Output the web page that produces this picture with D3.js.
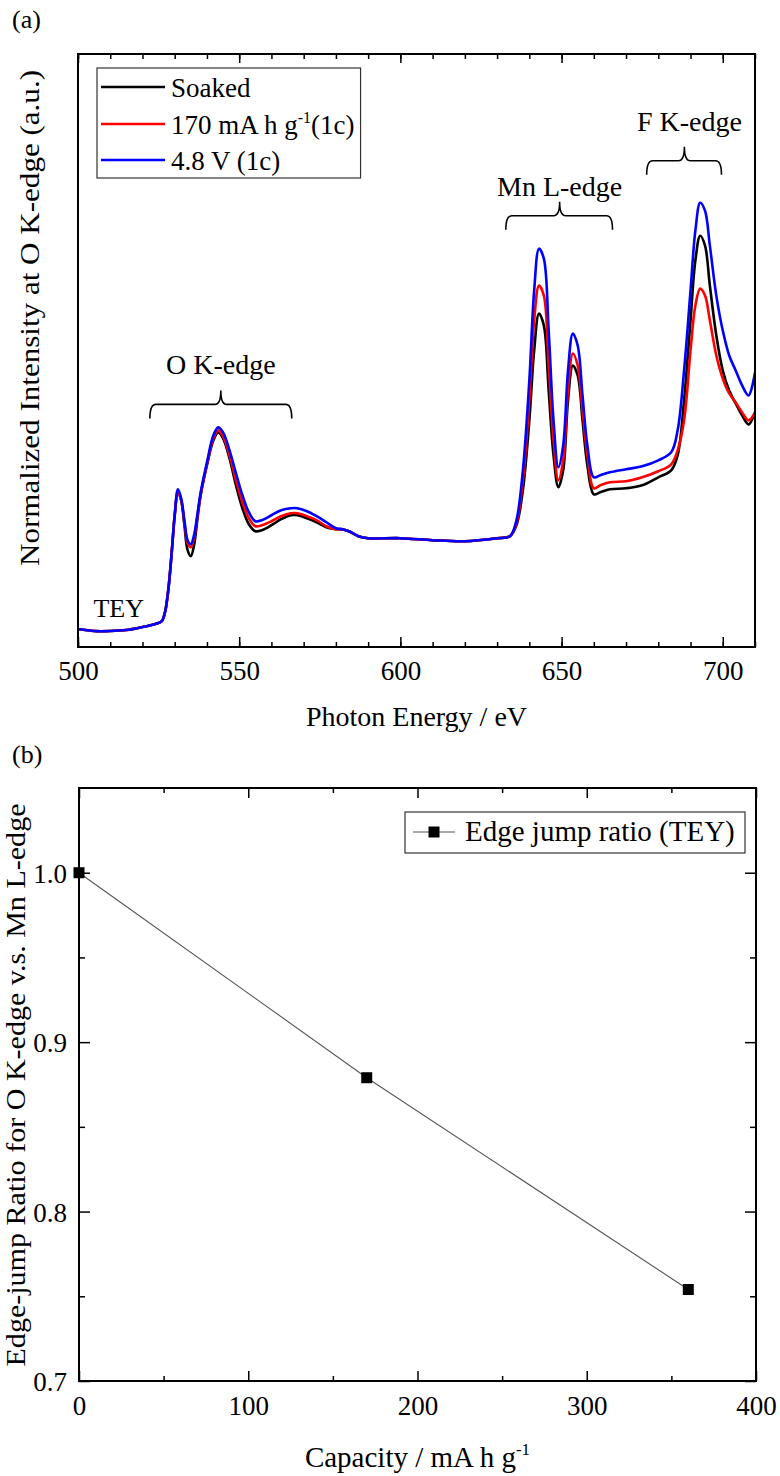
<!DOCTYPE html>
<html><head><meta charset="utf-8">
<script src="https://cdn.jsdelivr.net/npm/d3@7"></script>
<style>
body{margin:0;background:#fff}
svg{display:block}
</style>
</head><body>
<svg id="c" width="780" height="1476"></svg>
<script>
// ---------- DATA (panel a) ----------
const energy = [500,505,510,515,520,524,526,527,528,529,530,531,532,533,534,535,536,537,538,540,542,543.5,545,547,549,551,553,555,557,560,563,566,568,571,574,577,580,582,584,587,590,600,610,620,630,634,636,638,640,641.5,643,644.5,646,647.5,649,650.5,652,653.5,655,656.5,658,660,662,665,670,675,680,684,686,688,690,691.5,693,694.5,696,698,700,702,704,706,708,710];
const soaked = [0.01,-0.01,-0.01,0.00,0.03,0.06,0.09,0.18,0.40,0.75,1.15,1.38,1.30,1.05,0.80,0.74,0.85,1.10,1.34,1.65,1.90,1.98,1.92,1.72,1.45,1.22,1.06,0.99,1.00,1.05,1.11,1.15,1.15,1.12,1.08,1.03,1.01,1.01,0.99,0.94,0.92,0.92,0.90,0.89,0.92,0.94,1.05,1.40,2.10,2.80,3.17,3.05,2.40,1.75,1.43,1.60,2.30,2.65,2.55,2.10,1.65,1.36,1.38,1.41,1.42,1.45,1.53,1.60,1.75,2.30,3.10,3.70,3.95,3.85,3.45,2.95,2.60,2.40,2.27,2.15,2.06,2.18];
const charged170 = [0.01,-0.01,-0.01,0.00,0.03,0.06,0.09,0.18,0.40,0.75,1.15,1.38,1.30,1.08,0.87,0.83,0.92,1.13,1.35,1.66,1.92,2.00,1.94,1.75,1.50,1.28,1.12,1.04,1.05,1.09,1.14,1.17,1.17,1.14,1.10,1.04,1.01,1.01,0.99,0.94,0.92,0.92,0.90,0.89,0.92,0.94,1.07,1.50,2.30,3.10,3.45,3.35,2.65,1.90,1.50,1.70,2.40,2.77,2.65,2.20,1.75,1.42,1.45,1.48,1.49,1.53,1.59,1.66,1.80,2.10,2.80,3.25,3.42,3.35,3.10,2.75,2.52,2.37,2.28,2.18,2.10,2.18];
const charged48V = [0.01,-0.01,-0.01,0.00,0.03,0.06,0.09,0.18,0.40,0.75,1.15,1.41,1.32,1.10,0.90,0.86,0.95,1.15,1.37,1.68,1.95,2.03,1.98,1.80,1.57,1.35,1.18,1.09,1.10,1.15,1.20,1.22,1.22,1.19,1.14,1.08,1.02,1.01,0.99,0.94,0.92,0.92,0.90,0.89,0.92,0.94,1.10,1.60,2.50,3.40,3.82,3.72,3.00,2.10,1.63,1.85,2.60,2.97,2.85,2.35,1.85,1.53,1.55,1.58,1.61,1.64,1.70,1.78,2.00,2.60,3.40,4.00,4.28,4.20,3.85,3.35,3.00,2.75,2.60,2.45,2.35,2.58];
const energyTicks = [500,550,600,650,700];
const energyMinor = d3.range(500,711,10);
// annotations (data coordinates: eV, a.u.)
const bracketLabels = ["O K-edge","Mn L-edge","F K-edge"];
const bracketFrom = [522.3,632.7,676.4];
const bracketTo = [566.3,665.8,699.6];
const bracketTip = [544.3,649.4,688.1];
const bracketLevel = [2.26,4.15,4.70];

// ---------- DATA (panel b) ----------
const capacity = [0,170,360];
const jumpRatio = [1.0,0.879,0.754];
const capTicks = [0,100,200,300,400];
const capMinor = [50,150,250,350];
const ratioTicks = [0.7,0.8,0.9,1.0];
const ratioMinor = [0.75,0.85,0.95];

// ---------- STYLE ----------
const colors = ["#000000","#ff0000","#0000ff"];
const FONT = '"Liberation Serif"';
const svg = d3.select("#c");

// ================= PANEL A =================
const A = {l:78,r:755,t:54,b:647};
const xA = d3.scaleLinear().domain([500,710]).range([A.l,A.r]);
const yA = d3.scaleLinear().domain([-0.17,5.77]).range([A.b,A.t]);

svg.append("defs").append("clipPath").attr("id","clipA")
  .append("rect").attr("x",A.l).attr("y",A.t).attr("width",A.r-A.l).attr("height",A.b-A.t);

const seriesA = [soaked,charged170,charged48V];
const lineA = d3.line().x((d,i)=>xA(energy[i])).y(d=>yA(d)).curve(d3.curveCatmullRom.alpha(0.5));
const gLines = svg.append("g").attr("clip-path","url(#clipA)");
seriesA.forEach((s,k)=>{
  gLines.append("path").datum(s).attr("d",lineA).attr("fill","none")
    .attr("stroke",colors[k]).attr("stroke-width",2.6).attr("stroke-linejoin","round");
});

function styleAxis(g){g.select(".domain").remove();g.selectAll("line").attr("stroke","#000").attr("stroke-width",1.5);}
// bottom
svg.append("g").attr("transform",`translate(0,${A.b})`)
  .call(d3.axisBottom(xA).tickValues(energyMinor).tickSize(-5).tickFormat(""))
  .call(styleAxis);
const bx = svg.append("g").attr("transform",`translate(0,${A.b})`)
  .call(d3.axisBottom(xA).tickValues(energyTicks).tickSize(-10).tickFormat(d3.format("d")))
  .call(styleAxis);
bx.selectAll("text").attr("y",33).attr("dy",null).attr("font-size",27);
// top
svg.append("g").attr("transform",`translate(0,${A.t})`)
  .call(d3.axisTop(xA).tickValues(energyMinor).tickSize(-5).tickFormat(""))
  .call(styleAxis);
svg.append("g").attr("transform",`translate(0,${A.t})`)
  .call(d3.axisTop(xA).tickValues(energyTicks).tickSize(-9).tickFormat(""))
  .call(styleAxis);
svg.append("rect").attr("x",A.l).attr("y",A.t).attr("width",A.r-A.l).attr("height",A.b-A.t)
  .attr("fill","none").attr("stroke","#000").attr("stroke-width",2);

// brackets
bracketLabels.forEach((lab,i)=>{
  const L=xA(bracketFrom[i]), R=xA(bracketTo[i]), C=xA(bracketTip[i]), H=yA(bracketLevel[i]);
  const tip=H-14, end=H+14, r=6;
  const p = `M${L},${end} Q${L},${H} ${L+r},${H} L${C-r},${H} Q${C},${H} ${C},${tip} Q${C},${H} ${C+r},${H} L${R-r},${H} Q${R},${H} ${R},${end}`;
  svg.append("path").attr("d",p).attr("fill","none").attr("stroke","#000").attr("stroke-width",1.6);
  svg.append("text").attr("x",C+(i===2?5:0)).attr("y",tip-(i===1?6:16)).attr("text-anchor","middle").attr("font-size",28).text(lab);
});
svg.append("text").attr("x",xA(504.8)).attr("y",yA(0.13)).attr("font-size",26).text("TEY");

// legend a
const legA = svg.append("g");
const legNames = ["Soaked",null,"4.8 V (1c)"];
const rowY = [87,124,160];
const legTexts=[];
seriesA.forEach((s,k)=>{
  legA.append("line").attr("x1",101).attr("x2",165).attr("y1",rowY[k]).attr("y2",rowY[k])
    .attr("stroke",colors[k]).attr("stroke-width",2.6);
  const t = legA.append("text").attr("x",171).attr("y",rowY[k]+10).attr("font-size",27).style("font-family",FONT);
  if(k===1){
    t.append("tspan").text("170 mA h g");
    t.append("tspan").attr("font-size",16).attr("dy",-11).text("-1");
    t.append("tspan").attr("dy",11).text("(1c)");
  } else t.text(legNames[k]);
  legTexts.push(t);
});
legA.insert("rect",":first-child").attr("x",97).attr("y",68).attr("width",250).attr("height",110)
  .attr("fill","#fff").attr("stroke","#333").attr("stroke-width",1.2);

// titles a
svg.append("text").attr("x",12).attr("y",28).attr("font-size",26).text("(a)");
svg.append("text").attr("x",(A.l+A.r)/2).attr("y",726).attr("text-anchor","middle").attr("font-size",28).text("Photon Energy / eV");
svg.append("text").attr("transform","translate(39,318) rotate(-90)").attr("text-anchor","middle")
  .attr("font-size",28).attr("textLength",496).attr("lengthAdjust","spacingAndGlyphs")
  .text("Normalized Intensity at O K-edge (a.u.)");

// ================= PANEL B =================
const B = {l:79,r:756,t:788,b:1381};
const xB = d3.scaleLinear().domain([0,400]).range([B.l,B.r]);
const yB = d3.scaleLinear().domain([0.7,1.05]).range([B.b,B.t]);

svg.append("g").attr("transform",`translate(0,${B.b})`)
  .call(d3.axisBottom(xB).tickValues(capMinor).tickSize(-5).tickFormat("")).call(styleAxis);
const bxb = svg.append("g").attr("transform",`translate(0,${B.b})`)
  .call(d3.axisBottom(xB).tickValues(capTicks).tickSize(-10).tickFormat(d3.format("d"))).call(styleAxis);
bxb.selectAll("text").attr("y",34).attr("dy",null).attr("font-size",27);
svg.append("g").attr("transform",`translate(0,${B.t})`)
  .call(d3.axisTop(xB).tickValues(capMinor).tickSize(-5).tickFormat("")).call(styleAxis);
svg.append("g").attr("transform",`translate(0,${B.t})`)
  .call(d3.axisTop(xB).tickValues(capTicks).tickSize(-10).tickFormat("")).call(styleAxis);
svg.append("g").attr("transform",`translate(${B.l},0)`)
  .call(d3.axisLeft(yB).tickValues(ratioMinor).tickSize(-6).tickFormat("")).call(styleAxis);
const byb = svg.append("g").attr("transform",`translate(${B.l},0)`)
  .call(d3.axisLeft(yB).tickValues(ratioTicks).tickSize(-11).tickFormat(d3.format(".1f"))).call(styleAxis);
byb.selectAll("text").attr("x",-12).attr("dy","0.35em").attr("font-size",27);
svg.append("g").attr("transform",`translate(${B.r},0)`)
  .call(d3.axisRight(yB).tickValues(ratioMinor).tickSize(-6).tickFormat("")).call(styleAxis);
svg.append("g").attr("transform",`translate(${B.r},0)`)
  .call(d3.axisRight(yB).tickValues(ratioTicks).tickSize(-11).tickFormat("")).call(styleAxis);
svg.append("rect").attr("x",B.l).attr("y",B.t).attr("width",B.r-B.l).attr("height",B.b-B.t)
  .attr("fill","none").attr("stroke","#000").attr("stroke-width",2);

const lineB = d3.line().x((d,i)=>xB(capacity[i])).y(d=>yB(d));
svg.append("path").datum(jumpRatio).attr("d",lineB).attr("fill","none").attr("stroke","#555").attr("stroke-width",1.1);
svg.selectAll("rect.pt").data(jumpRatio).enter().append("rect").attr("class","pt")
  .attr("x",(d,i)=>xB(capacity[i])-5.5).attr("y",d=>yB(d)-5.5).attr("width",11).attr("height",11).attr("fill","#000");

// legend b
const legB = svg.append("g");
legB.append("rect").attr("x",405).attr("y",812).attr("width",340).attr("height",41)
  .attr("fill","#fff").attr("stroke","#333").attr("stroke-width",1.2);
legB.append("line").attr("x1",413).attr("x2",455).attr("y1",832).attr("y2",832).attr("stroke","#555").attr("stroke-width",1.1);
legB.append("rect").attr("x",434-5.5).attr("y",832-5.5).attr("width",11).attr("height",11).attr("fill","#000");
legB.append("text").attr("x",465).attr("y",841).attr("font-size",29).text("Edge jump ratio (TEY)");

// titles b
svg.append("text").attr("x",12).attr("y",763).attr("font-size",26).text("(b)");
const xt = svg.append("text").attr("x",(B.l+B.r)/2).attr("y",1467).attr("text-anchor","middle").attr("font-size",29);
xt.append("tspan").text("Capacity / mA h g");
xt.append("tspan").attr("font-size",17).attr("dy",-12).text("-1");
svg.append("text").attr("transform","translate(25,1085) rotate(-90)").attr("text-anchor","middle")
  .attr("font-size",28).attr("textLength",563).attr("lengthAdjust","spacingAndGlyphs")
  .text("Edge-jump Ratio for O K-edge v.s. Mn L-edge");

// apply serif font everywhere
svg.selectAll("g").attr("font-family",null);
svg.selectAll("text").style("font-family",FONT).attr("fill","#000");
// size legend-a box to its text
const maxR = d3.max(legTexts,t=>{const b=t.node().getBBox();return b.x+b.width;});
legA.select("rect").attr("width",maxR+6-97);
</script>
</body></html>
